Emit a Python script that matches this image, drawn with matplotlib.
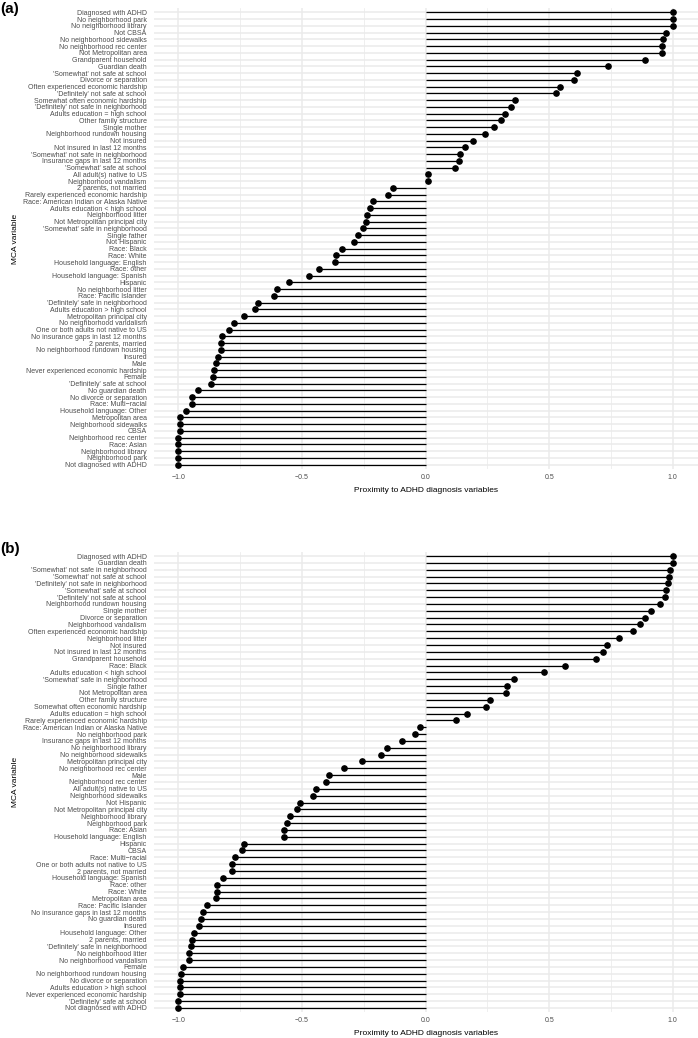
import numpy as np
import matplotlib
matplotlib.use("Agg")
import matplotlib.pyplot as plt

plt.rcParams['font.family'] = ['Liberation Sans', 'DejaVu Sans']

# ---- panel (a): categories listed top to bottom ----
labels_a = [
    "Diagnosed with ADHD", "No neighborhood park", "No neighborhood library", "Not CBSA",
    "No neighborhood sidewalks", "No neighborhood rec center", "Not Metropolitan area",
    "Grandparent household", "Guardian death", "'Somewhat' not safe at school",
    "Divorce or separation", "Often experienced economic hardship",
    "'Definitely' not safe at school", "Somewhat often economic hardship",
    "'Definitely' not safe in neighborhood", "Adults education = high school",
    "Other family structure", "Single mother", "Neighborhood rundown housing", "Not insured",
    "Not insured in last 12 months", "'Somewhat' not safe in neighborhood",
    "Insurance gaps in last 12 months", "'Somewhat' safe at school", "All adult(s) native to US",
    "Neighborhood vandalism", "2 parents, not married", "Rarely experienced economic hardship",
    "Race: American Indian or Alaska Native", "Adults education < high school",
    "Neighborhood litter", "Not Metropolitan principal city", "'Somewhat' safe in neighborhood",
    "Single father", "Not Hispanic", "Race: Black", "Race: White", "Household language: English",
    "Race: other", "Household language: Spanish", "Hispanic", "No neighborhood litter",
    "Race: Pacific Islander", "'Definitely' safe in neighborhood", "Adults education > high school",
    "Metropolitan principal city", "No neighborhood vandalism", "One or both adults not native to US",
    "No insurance gaps in last 12 months", "2 parents, married", "No neighborhood rundown housing",
    "Insured", "Male", "Never experienced economic hardship", "Female", "'Definitely' safe at school",
    "No guardian death", "No divorce or separation", "Race: Multi\u2212racial",
    "Household language: Other", "Metropolitan area", "Neighborhood sidewalks", "CBSA",
    "Neighborhood rec center", "Race: Asian", "Neighborhood library", "Neighborhood park",
    "Not diagnosed with ADHD",
]
values_a = [
    1.0, 1.0, 1.0, 0.971, 0.960, 0.955, 0.955, 0.889, 0.738, 0.613,
    0.600, 0.542, 0.529, 0.361, 0.347, 0.320, 0.305, 0.278, 0.242, 0.193,
    0.158, 0.140, 0.135, 0.121, 0.009, 0.009, -0.131, -0.152, -0.213, -0.225,
    -0.236, -0.242, -0.252, -0.275, -0.291, -0.339, -0.363, -0.368, -0.429, -0.470,
    -0.551, -0.599, -0.614, -0.677, -0.691, -0.735, -0.775, -0.794, -0.822, -0.829,
    -0.829, -0.838, -0.846, -0.856, -0.858, -0.869, -0.920, -0.943, -0.943, -0.970,
    -0.991, -0.991, -0.992, -1.0, -1.0, -1.0, -1.0, -1.0,
]

# ---- panel (b) ----
labels_b = [
    "Diagnosed with ADHD", "Guardian death", "'Somewhat' not safe in neighborhood",
    "'Somewhat' not safe at school", "'Definitely' not safe in neighborhood",
    "'Somewhat' safe at school", "'Definitely' not safe at school", "Neighborhood rundown housing",
    "Single mother", "Divorce or separation", "Neighborhood vandalism",
    "Often experienced economic hardship", "Neighborhood litter", "Not insured",
    "Not insured in last 12 months", "Grandparent household", "Race: Black",
    "Adults education < high school", "'Somewhat' safe in neighborhood", "Single father",
    "Not Metropolitan area", "Other family structure", "Somewhat often economic hardship",
    "Adults education = high school", "Rarely experienced economic hardship",
    "Race: American Indian or Alaska Native", "No neighborhood park",
    "Insurance gaps in last 12 months", "No neighborhood library", "No neighborhood sidewalks",
    "Metropolitan principal city", "No neighborhood rec center", "Male", "Neighborhood rec center",
    "All adult(s) native to US", "Neighborhood sidewalks", "Not Hispanic",
    "Not Metropolitan principal city", "Neighborhood library", "Neighborhood park", "Race: Asian",
    "Household language: English", "Hispanic", "CBSA", "Race: Multi\u2212racial",
    "One or both adults not native to US", "2 parents, not married", "Household language: Spanish",
    "Race: other", "Race: White", "Metropolitan area", "Race: Pacific Islander",
    "No insurance gaps in last 12 months", "No guardian death", "Insured",
    "Household language: Other", "2 parents, married", "'Definitely' safe in neighborhood",
    "No neighborhood litter", "No neighborhood vandalism", "Female",
    "No neighborhood rundown housing", "No divorce or separation", "Adults education > high school",
    "Never experienced economic hardship", "'Definitely' safe at school", "Not diagnosed with ADHD",
]
values_b = [
    1.0, 1.0, 0.987, 0.985, 0.982, 0.971, 0.967, 0.950, 0.912, 0.888,
    0.867, 0.838, 0.782, 0.734, 0.716, 0.691, 0.563, 0.479, 0.359, 0.331,
    0.327, 0.261, 0.245, 0.166, 0.122, -0.024, -0.042, -0.096, -0.157, -0.178,
    -0.258, -0.329, -0.391, -0.404, -0.443, -0.455, -0.506, -0.520, -0.547, -0.560,
    -0.574, -0.574, -0.735, -0.742, -0.771, -0.783, -0.783, -0.819, -0.842, -0.845,
    -0.847, -0.883, -0.901, -0.907, -0.918, -0.937, -0.943, -0.949, -0.957, -0.957,
    -0.979, -0.989, -0.992, -0.992, -0.993, -0.999, -1.0,
]

W, H = 698, 1038
fig = plt.figure(figsize=(W / 100, H / 100), dpi=100)
grid_col = '#EBEBEB'


def lollipop(ax, labels, values):
    n = len(labels)
    y = np.arange(n)[::-1]
    ax.hlines(y, 0, values, color='black', lw=0.9, zorder=3)
    ax.plot(values, y, 'o', color='black', ms=3.8, zorder=4)
    ax.set_yticks(y)
    ax.set_yticklabels(labels)
    ax.set_ylim(-0.6, n - 1 + 0.6)
    ax.set_xlim(-1.1, 1.1)
    ax.set_xticks([-1.0, -0.5, 0.0, 0.5, 1.0])
    ax.set_xticklabels(['\u22121.0', '\u22120.5', '0.0', '0.5', '1.0'])
    ax.set_xticks([-0.75, -0.25, 0.25, 0.75], minor=True)
    ax.grid(True, which='major', color=grid_col, lw=1.1, zorder=0)
    ax.grid(True, which='minor', axis='x', color=grid_col, lw=0.55, zorder=0)
    ax.tick_params(axis='both', which='both', length=0, labelsize=5.0, labelcolor='#4D4D4D')
    ax.tick_params(axis='y', pad=4.9)
    ax.tick_params(axis='x', pad=3.6)
    for s in ax.spines.values():
        s.set_visible(False)
    ax.set_axisbelow(True)
    ax.set_xlabel('Proximity to ADHD diagnosis variables', fontsize=6)
    ax.set_ylabel('MCA variable', fontsize=6)
    ax.xaxis.label.set_va('center')
    ax.xaxis.set_label_coords(0.5, -0.0465)
    ax.yaxis.label.set_va('center')
    ax.yaxis.set_label_coords(-0.2535, 0.5)


left = 153.5 / W
width = (697.5 - 153.5) / W

ax_a = fig.add_axes([left, 1 - 468.7 / H, width, (468.7 - 8.3) / H])
lollipop(ax_a, labels_a, values_a)

ax_b = fig.add_axes([left, 1 - 1012.1 / H, width, (1012.1 - 551.9) / H])
lollipop(ax_b, labels_b, values_b)

fig.text(0.0, 1 - 8.5 / H, '(a)', fontsize=11, fontweight='bold', va='center', ha='left')
fig.text(0.0, 1 - 549 / H, '(b)', fontsize=11, fontweight='bold', va='center', ha='left')

fig.savefig('out.png', dpi=100)
